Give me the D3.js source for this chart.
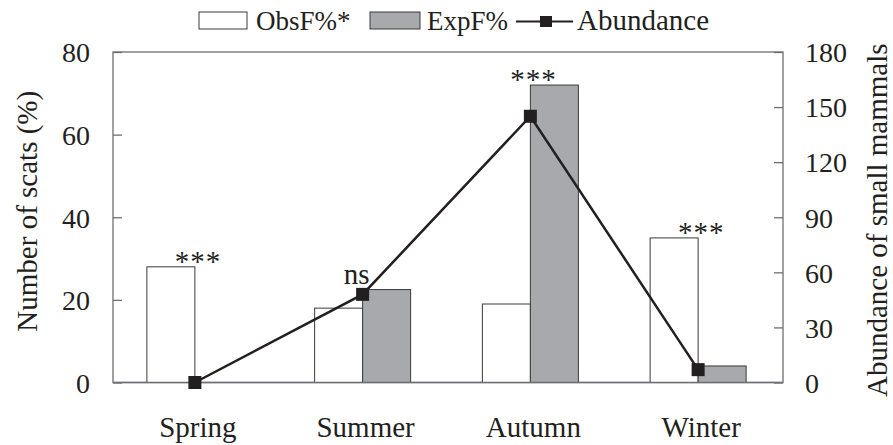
<!DOCTYPE html>
<html>
<head>
<meta charset="utf-8">
<script src="https://cdn.jsdelivr.net/npm/d3@7"></script>
<style>
  body { margin: 0; background: #fff; }
</style>
</head>
<body>
<svg></svg>
<script>
let seasons = ["Spring", "Summer", "Autumn", "Winter"];
let obsF = [28, 18, 19, 35];
let expF = [0, 22.5, 72, 4];
let abundance = [0, 48, 145, 7];
let signif = ["***", "ns", "***", "***"];
let leftTicks = [0, 20, 40, 60, 80];
let rightTicks = [0, 30, 60, 90, 120, 150, 180];

let svgWidth = 893;
let svgHeight = 445;
let plotLeft = 113, plotRight = 783, plotTop = 52, plotBottom = 382.5;
let fontSize = 29;
let serif = "'Liberation Serif', 'DejaVu Serif', serif";

var svg = d3.select("svg")
    .attr("width", svgWidth)
    .attr("height", svgHeight)
    .style("font-family", serif);

let xScale = d3.scaleBand()
    .domain(seasons)
    .range([111, 782]);
let yLeft = d3.scaleLinear().domain([0, 80]).range([plotBottom, plotTop]);
let yRight = d3.scaleLinear().domain([0, 180]).range([plotBottom, plotTop]);
let barW = 48;
let cx = s => xScale(s) + xScale.bandwidth() / 2;

// frame
svg.append("rect")
    .attr("x", plotLeft).attr("y", plotTop)
    .attr("width", plotRight - plotLeft).attr("height", plotBottom - plotTop)
    .attr("fill", "none").attr("stroke", "#6d6e71").attr("stroke-width", 1.3);

// left axis
let gl = svg.append("g")
    .attr("transform", `translate(${plotLeft},0)`)
    .call(d3.axisLeft(yLeft).tickValues(leftTicks).tickSize(-9).tickPadding(23).tickSizeOuter(0));
gl.select(".domain").remove();
gl.attr("font-family", null).attr("font-size", null);
gl.selectAll("line").attr("stroke", "#6d6e71").attr("stroke-width", 1.3);
gl.selectAll("text").attr("font-size", 28).attr("fill", "#231f20").attr("dy", "0.35em");

// right axis
let gr = svg.append("g")
    .attr("transform", `translate(${plotRight},0)`)
    .call(d3.axisRight(yRight).tickValues(rightTicks).tickSize(-9).tickPadding(22).tickSizeOuter(0));
gr.select(".domain").remove();
gr.attr("font-family", null).attr("font-size", null);
gr.selectAll("line").attr("stroke", "#6d6e71").attr("stroke-width", 1.3);
gr.selectAll("text").attr("font-size", 28).attr("fill", "#231f20").attr("dy", "0.35em");

// x labels
svg.selectAll(".xlab")
    .data(seasons)
    .enter()
    .append("text")
    .attr("x", d => cx(d) + 3)
    .attr("y", 437)
    .attr("text-anchor", "middle")
    .attr("font-size", fontSize)
    .attr("fill", "#231f20")
    .text(d => d);

// bars
svg.selectAll(".obs")
    .data(obsF)
    .enter()
    .append("rect")
    .attr("x", (d, i) => cx(seasons[i]) - barW)
    .attr("y", d => yLeft(d))
    .attr("width", barW)
    .attr("height", d => plotBottom - yLeft(d))
    .attr("fill", "#fff")
    .attr("stroke", "#3a3a3c")
    .attr("stroke-width", 1);

svg.selectAll(".exp")
    .data(expF)
    .enter()
    .append("rect")
    .attr("x", (d, i) => cx(seasons[i]))
    .attr("y", d => yLeft(d))
    .attr("width", barW)
    .attr("height", d => plotBottom - yLeft(d))
    .attr("fill", d => d > 0 ? "#a7a9ac" : "none")
    .attr("stroke", d => d > 0 ? "#3a3a3c" : "none")
    .attr("stroke-width", 1);

// baseline over bars
svg.append("line")
    .attr("x1", plotLeft).attr("x2", plotRight)
    .attr("y1", plotBottom).attr("y2", plotBottom)
    .attr("stroke", "#6d6e71").attr("stroke-width", 1.3);

// abundance line
let line = d3.line()
    .x((d, i) => cx(seasons[i]))
    .y(d => yRight(d));
svg.append("path")
    .datum(abundance)
    .attr("d", line)
    .attr("fill", "none")
    .attr("stroke", "#231f20")
    .attr("stroke-width", 2.5);

svg.selectAll(".marker")
    .data(abundance)
    .enter()
    .append("rect")
    .attr("x", (d, i) => cx(seasons[i]) - 6.5)
    .attr("y", d => yRight(d) - 6.5)
    .attr("width", 13)
    .attr("height", 13)
    .attr("fill", "#231f20");

// significance labels
svg.selectAll(".sig")
    .data(signif)
    .enter()
    .append("text")
    .attr("x", (d, i) => d === "ns" ? cx(seasons[i]) - 6 : cx(seasons[i]) + 3)
    .attr("y", (d, i) => d === "ns" ? yRight(abundance[i]) - 10 : yLeft(Math.max(obsF[i], expF[i])) + 4)
    .attr("text-anchor", "middle")
    .attr("font-size", fontSize)
    .attr("fill", "#231f20")
    .attr("letter-spacing", d => d === "ns" ? 0 : 1)
    .text(d => d);

// axis titles
svg.append("text")
    .attr("transform", `translate(37, ${(plotTop + plotBottom) / 2 - 6}) rotate(-90)`)
    .attr("text-anchor", "middle")
    .attr("font-size", fontSize)
    .attr("fill", "#231f20")
    .text("Number of scats (%)");

svg.append("text")
    .attr("transform", `translate(887, ${(plotTop + plotBottom) / 2 + 3}) rotate(-90)`)
    .attr("text-anchor", "middle")
    .attr("font-size", fontSize)
    .attr("fill", "#231f20")
    .text("Abundance of small mammals");

// legend
let lg = svg.append("g").attr("fill", "#231f20").attr("font-size", 27);
lg.append("rect").attr("x", 199).attr("y", 12).attr("width", 48).attr("height", 17)
    .attr("fill", "#fff").attr("stroke", "#3a3a3c");
lg.append("text").attr("x", 256).attr("y", 30).text("ObsF%*");
lg.append("rect").attr("x", 370).attr("y", 12).attr("width", 50).attr("height", 17)
    .attr("fill", "#a7a9ac").attr("stroke", "#3a3a3c");
lg.append("text").attr("x", 427).attr("y", 30).text("ExpF%");
lg.append("line").attr("x1", 516).attr("x2", 573).attr("y1", 21.5).attr("y2", 21.5)
    .attr("stroke", "#231f20").attr("stroke-width", 2);
lg.append("rect").attr("x", 540).attr("y", 16).attr("width", 12).attr("height", 11)
    .attr("fill", "#231f20");
lg.append("text").attr("x", 577).attr("y", 30).attr("font-size", 29).text("Abundance");
</script>
</body>
</html>
